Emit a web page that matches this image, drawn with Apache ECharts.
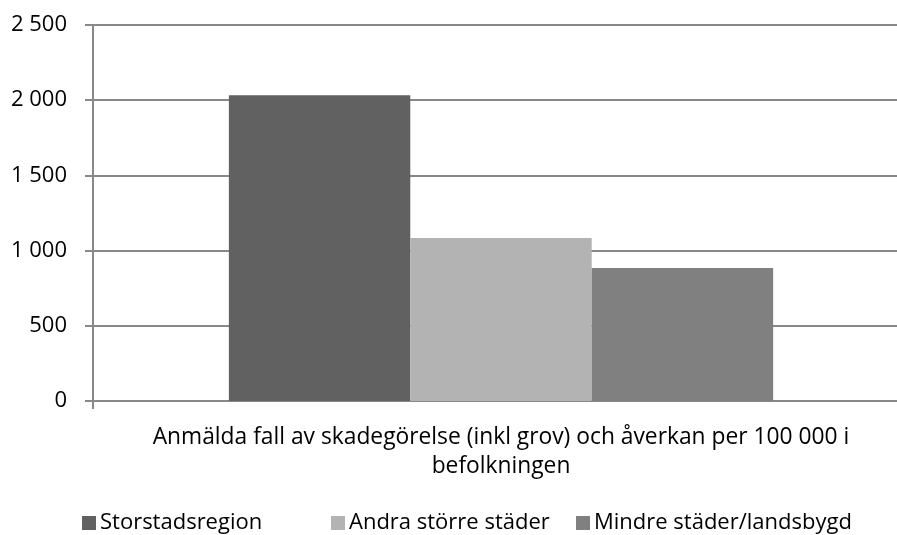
<!DOCTYPE html>
<html>
<head>
<meta charset="utf-8">
<script src="https://cdn.jsdelivr.net/npm/echarts@6/dist/echarts.min.js"></script>
<style>
  html, body { margin: 0; padding: 0; background: #fff; }
  #chart { width: 897px; height: 535px; }
</style>
</head>
<body>
<div id="chart"></div>
<script>
const categories = ["Anmälda fall av skadegörelse (inkl grov) och åverkan per 100 000 i\nbefolkningen"];
const seriesNames = ["Storstadsregion", "Andra större städer", "Mindre städer/landsbygd"];
const seriesValues = [[2033], [1083], [884]];
const seriesColors = ["#616161", "#b3b3b3", "#808080"];

const fontFamily = "Open Sans, Liberation Sans, sans-serif";
const chart = echarts.init(document.getElementById("chart"));

const series = seriesNames.map((name, i) => ({
  name: name,
  type: "bar",
  data: seriesValues[i],
  barGap: "0%",
  barCategoryGap: "33.3%",
  itemStyle: { color: seriesColors[i] }
}));

// Excel legend spacing is uneven, so one legend per item
const legendLeft = [82, 331, 576];
const legends = seriesNames.map((name, i) => ({
  top: 512,
  left: legendLeft[i],
  padding: 0,
  itemWidth: 14,
  itemHeight: 14,
  icon: "rect",
  textStyle: { fontSize: 22, color: "#000", fontFamily: fontFamily, padding: [0, 0, 0, -1] },
  data: [name]
}));

chart.setOption({
  animation: false,
  textStyle: { fontFamily: fontFamily },
  grid: {
    left: 93, width: 816, top: 25, bottom: 134,
    containLabel: false, outerBoundsMode: "none"
  },
  legend: legends,
  xAxis: {
    type: "category",
    data: categories,
    axisLine: { lineStyle: { color: "#888", width: 2 } },
    axisTick: { show: true, length: 8, lineStyle: { color: "#888", width: 2 } },
    axisLabel: {
      fontSize: 22.8,
      color: "#000",
      lineHeight: 29,
      margin: 22,
      fontFamily: fontFamily
    }
  },
  yAxis: {
    type: "value",
    min: 0,
    max: 2500,
    interval: 500,
    axisLine: { show: true, lineStyle: { color: "#888", width: 2 } },
    axisTick: { show: true, length: 8, lineStyle: { color: "#888", width: 2 } },
    splitLine: { lineStyle: { color: "#888", width: 2 } },
    axisLabel: {
      fontSize: 22,
      color: "#000",
      margin: 26,
      fontFamily: fontFamily,
      formatter: v => String(v).replace(/\B(?=(\d{3})+(?!\d))/g, " ")
    }
  },
  series: series
});
</script>
</body>
</html>
